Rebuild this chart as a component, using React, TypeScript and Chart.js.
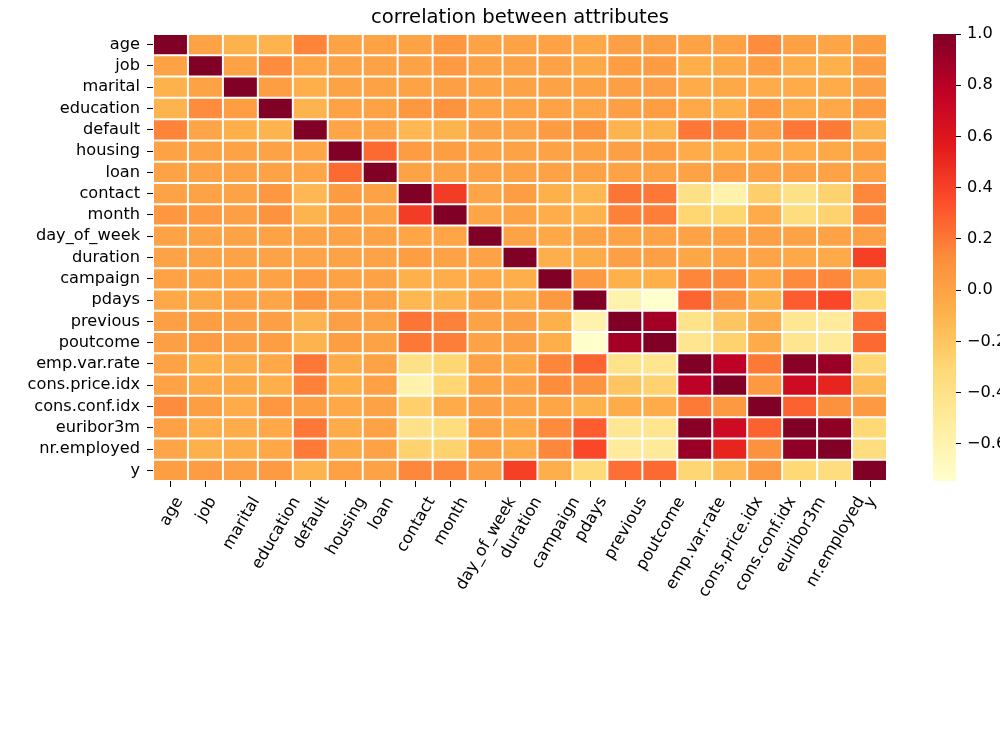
import { useEffect, useRef } from 'react';
import { Chart, registerables } from 'chart.js';
Chart.register(...registerables);

const FONT = "'DejaVu Sans', sans-serif";
const TICK_SIZE = 16.2;
const TITLE_SIZE = 19.6;
const TITLE = 'correlation between attributes';

const attributes = ['age', 'job', 'marital', 'education', 'default', 'housing', 'loan', 'contact', 'month', 'day_of_week', 'duration', 'campaign', 'pdays', 'previous', 'poutcome', 'emp.var.rate', 'cons.price.idx', 'cons.conf.idx', 'euribor3m', 'nr.employed', 'y'];

// correlation rows (same column order as attributes)
const rAge = [1, 0.0, -0.09, -0.1, 0.16, 0.0, 0.0, 0.0, 0.06, 0.0, -0.001, 0.005, -0.034, 0.024, 0.02, 0.0, 0.001, 0.129, 0.011, -0.018, 0.03];
const rJob = [0.0, 1, 0.0, 0.13, -0.02, 0.0, 0.0, 0.0, 0.05, 0.0, 0.0, 0.0, -0.04, 0.03, 0.04, -0.07, -0.04, 0.03, -0.06, -0.08, 0.04];
const rMarital = [-0.09, 0.0, 1, 0.03, -0.07, 0.0, 0.0, 0.0, 0.02, 0.0, 0.0, 0.0, 0.0, 0.02, 0.02, -0.05, -0.04, -0.05, -0.05, -0.05, 0.02];
const rEducation = [-0.1, 0.13, 0.03, 1, -0.1, 0.0, 0.0, 0.06, 0.09, 0.0, 0.0, 0.0, -0.02, 0.02, 0.03, -0.03, -0.07, 0.06, -0.03, -0.03, 0.05];
const rDefault = [0.16, -0.02, -0.07, -0.1, 1, -0.02, -0.02, -0.12, -0.1, 0.0, -0.01, 0.04, 0.08, -0.1, -0.1, 0.2, 0.17, 0.03, 0.2, 0.19, -0.1];
const rHousing = [0.0, 0.0, 0.0, 0.0, -0.02, 1, 0.25, 0.04, 0.03, 0.0, 0.0, 0.0, 0.0, 0.02, 0.03, -0.05, -0.07, -0.03, -0.05, -0.04, 0.01];
const rLoan = [0.0, 0.0, 0.0, 0.0, -0.02, 0.25, 1, 0.0, 0.0, 0.0, 0.0, 0.0, 0.0, 0.0, 0.0, 0.0, 0.01, 0.0, 0.0, 0.0, 0.0];
const rContact = [0.0, 0.0, 0.0, 0.06, -0.12, 0.04, 0.0, 1, 0.42, -0.02, 0.027, -0.077, -0.118, 0.212, 0.2, -0.394, -0.591, -0.252, -0.4, -0.27, 0.145];
const rMonth = [0.06, 0.05, 0.02, 0.09, -0.1, 0.03, 0.0, 0.42, 1, -0.02, 0.0, -0.06, -0.1, 0.17, 0.18, -0.29, -0.29, -0.05, -0.35, -0.27, 0.15];
const rDayOfWeek = [0.0, 0.0, 0.0, 0.0, 0.0, 0.0, 0.0, -0.02, -0.02, 1, 0.0, -0.03, 0.0, 0.0, 0.0, 0.0, 0.0, 0.02, 0.0, 0.0, 0.02];
const rDuration = [-0.001, 0.0, 0.0, 0.0, -0.01, 0.0, 0.0, 0.027, 0.0, 0.0, 1, -0.072, -0.048, 0.021, 0.02, -0.028, 0.005, -0.008, -0.033, -0.045, 0.405];
const rCampaign = [0.005, 0.0, 0.0, 0.0, 0.04, 0.0, 0.0, -0.077, -0.06, -0.03, -0.072, 1, 0.053, -0.079, -0.07, 0.151, 0.128, -0.014, 0.135, 0.144, -0.066];
const rPdays = [-0.034, -0.04, 0.0, -0.02, 0.08, 0.0, 0.0, -0.118, -0.1, 0.0, -0.048, 0.053, 1, -0.588, -0.745, 0.271, 0.079, -0.091, 0.297, 0.373, -0.325];
const rPrevious = [0.024, 0.03, 0.02, 0.02, -0.1, 0.02, 0.0, 0.212, 0.17, 0.0, 0.021, -0.079, -0.588, 1, 0.87, -0.42, -0.203, -0.051, -0.455, -0.501, 0.23];
const rPoutcome = [0.02, 0.04, 0.02, 0.03, -0.1, 0.03, 0.0, 0.2, 0.18, 0.0, 0.02, -0.07, -0.745, 0.87, 1, -0.44, -0.27, -0.05, -0.44, -0.49, 0.25];
const rEmpVarRate = [0.0, -0.07, -0.05, -0.03, 0.2, -0.05, 0.0, -0.394, -0.29, 0.0, -0.028, 0.151, 0.271, -0.42, -0.44, 1, 0.775, 0.196, 0.972, 0.907, -0.298];
const rConsPriceIdx = [0.001, -0.04, -0.04, -0.07, 0.17, -0.07, 0.01, -0.591, -0.29, 0.0, 0.005, 0.128, 0.079, -0.203, -0.27, 0.775, 1, 0.059, 0.688, 0.522, -0.136];
const rConsConfIdx = [0.129, 0.03, -0.05, 0.06, 0.03, -0.03, 0.0, -0.252, -0.05, 0.02, -0.008, -0.014, -0.091, -0.051, -0.05, 0.196, 0.059, 1, 0.278, 0.1, 0.055];
const rEuribor3m = [0.011, -0.06, -0.05, -0.03, 0.2, -0.05, 0.0, -0.4, -0.35, 0.0, -0.033, 0.135, 0.297, -0.455, -0.44, 0.972, 0.688, 0.278, 1, 0.945, -0.308];
const rNrEmployed = [-0.018, -0.08, -0.05, -0.03, 0.19, -0.04, 0.0, -0.27, -0.27, 0.0, -0.045, 0.144, 0.373, -0.501, -0.49, 0.907, 0.522, 0.1, 0.945, 1, -0.355];
const rY = [0.03, 0.04, 0.02, 0.05, -0.1, 0.01, 0.0, 0.145, 0.15, 0.02, 0.405, -0.066, -0.325, 0.23, 0.25, -0.298, -0.136, 0.055, -0.308, -0.355, 1];

const corr = [rAge, rJob, rMarital, rEducation, rDefault, rHousing, rLoan, rContact, rMonth, rDayOfWeek, rDuration, rCampaign, rPdays, rPrevious, rPoutcome, rEmpVarRate, rConsPriceIdx, rConsConfIdx, rEuribor3m, rNrEmployed, rY];

const colorbarTicks = [-0.6, -0.4, -0.2, 0.0, 0.2, 0.4, 0.6, 0.8, 1.0];

const YLORRD = ['#ffffcc', '#ffeda0', '#fed976', '#feb24c', '#fd8d3c', '#fc4e2a', '#e31a1c', '#bd0026', '#800026'];

const flat = corr.flat();
const vmin = Math.min(...flat);
const vmax = Math.max(...flat);

function hexToRgb(h: string) {
  return [parseInt(h.slice(1, 3), 16), parseInt(h.slice(3, 5), 16), parseInt(h.slice(5, 7), 16)];
}
const stops = YLORRD.map(hexToRgb);

function colorFor(v: number) {
  let t = (v - vmin) / (vmax - vmin);
  t = Math.max(0, Math.min(1, t));
  const pos = t * (stops.length - 1);
  const i = Math.min(stops.length - 2, Math.floor(pos));
  const f = pos - i;
  const a = stops[i], b = stops[i + 1];
  const c = a.map((x, k) => Math.round(x + (b[k] - x) * f));
  return `rgb(${c[0]},${c[1]},${c[2]})`;
}

const fmt = (v: number) => (v < -1e-9 ? '\u2212' : '') + Math.abs(v).toFixed(1);

const xLabelsPlugin = {
  id: 'xLabels',
  afterDraw(chart: any) {
    const { ctx, chartArea, scales } = chart;
    const xs = scales.x;
    ctx.save();
    // title
    ctx.fillStyle = '#000';
    ctx.font = `${TITLE_SIZE}px ${FONT}`;
    ctx.textAlign = 'center';
    ctx.textBaseline = 'alphabetic';
    ctx.fillText(TITLE, (chartArea.left + chartArea.right) / 2, 23);
    // x ticks and rotated labels (matplotlib style, centered rotation)
    const ang = (60 * Math.PI) / 180;
    const fs = TICK_SIZE;
    const h = 1.164 * fs;
    ctx.font = `${fs}px ${FONT}`;
    ctx.strokeStyle = '#000';
    ctx.lineWidth = 1;
    const top = chartArea.bottom + 6 + 6;
    attributes.forEach((lab, j) => {
      const x = xs.getPixelForValue(j);
      const px = Math.round(x) + 0.5;
      ctx.beginPath();
      ctx.moveTo(px, chartArea.bottom);
      ctx.lineTo(px, chartArea.bottom + 6);
      ctx.stroke();
      const w = ctx.measureText(lab).width;
      const H = w * Math.sin(ang) + h * Math.cos(ang);
      const cy = top + H / 2;
      ctx.save();
      ctx.translate(x, cy);
      ctx.rotate(-ang);
      ctx.textAlign = 'center';
      ctx.textBaseline = 'alphabetic';
      ctx.fillText(lab, 0, 0.346 * fs);
      ctx.restore();
    });
    ctx.restore();
  },
};

const colorbarPlugin = {
  id: 'colorbarFill',
  beforeDatasetsDraw(chart: any) {
    const { ctx, chartArea, scales } = chart;
    const ys = scales.y;
    const y0 = ys.getPixelForValue(vmin);
    const y1 = ys.getPixelForValue(vmax);
    const g = ctx.createLinearGradient(0, y0, 0, y1);
    YLORRD.forEach((c, k) => g.addColorStop(k / (YLORRD.length - 1), c));
    ctx.save();
    ctx.fillStyle = g;
    ctx.fillRect(chartArea.left, y1, chartArea.right - chartArea.left, y0 - y1);
    ctx.restore();
  },
};

export default function App() {
  const mainRef = useRef<HTMLCanvasElement>(null);
  const cbRef = useRef<HTMLCanvasElement>(null);

  useEffect(() => {
    const datasets = attributes.map((name, j) => ({
      label: name,
      data: attributes.map(() => [j - 0.5, j + 0.5]),
      backgroundColor: attributes.map((_, i) => colorFor(corr[i][j])),
      borderColor: '#ffffff',
      borderWidth: 1,
      borderSkipped: false,
      inflateAmount: 0,
      barPercentage: 1,
      categoryPercentage: 1,
      grouped: false,
    }));

    const main = new Chart(mainRef.current as HTMLCanvasElement, {
      type: 'bar',
      data: { labels: attributes, datasets: datasets as any },
      options: {
        indexAxis: 'y',
        responsive: false,
        animation: false,
        devicePixelRatio: 1,
        layout: { padding: { left: 0, right: 113, top: 34, bottom: 0 } },
        plugins: { legend: { display: false }, tooltip: { enabled: false }, title: { display: false } },
        scales: {
          x: {
            type: 'linear',
            min: -0.5,
            max: attributes.length - 0.5,
            display: true,
            grid: { display: false },
            border: { display: false },
            ticks: { display: false },
            afterFit: (s: any) => { s.height = 750 - 481; },
          },
          y: {
            type: 'category',
            offset: true,
            grid: { display: true, drawOnChartArea: false, drawTicks: true, tickLength: 6, offset: false, color: '#000', lineWidth: 1 },
            border: { display: false },
            ticks: { autoSkip: false, padding: 7, color: '#000', font: { family: FONT, size: TICK_SIZE } },
            afterFit: (s: any) => { s.width = 153; },
          },
        },
      } as any,
      plugins: [xLabelsPlugin],
    });

    const cb = new Chart(cbRef.current as HTMLCanvasElement, {
      type: 'scatter',
      data: { datasets: [] },
      options: {
        responsive: false,
        animation: false,
        devicePixelRatio: 1,
        layout: { padding: { left: 33, right: 0, top: 34, bottom: 750 - 481 } },
        plugins: { legend: { display: false }, tooltip: { enabled: false } },
        scales: {
          x: { display: false, min: 0, max: 1 },
          y: {
            type: 'linear',
            position: 'right',
            min: vmin,
            max: vmax,
            afterBuildTicks: (s: any) => { s.ticks = colorbarTicks.map((v) => ({ value: v })); },
            grid: { display: true, drawOnChartArea: false, drawTicks: true, tickLength: 5, color: '#000', lineWidth: 1 },
            border: { display: false },
            ticks: { padding: 6, color: '#000', font: { family: FONT, size: TICK_SIZE }, callback: (v: any) => fmt(Number(v)) },
            afterFit: (s: any) => { s.width = 44; },
          },
        },
      } as any,
      plugins: [colorbarPlugin],
    });

    return () => { main.destroy(); cb.destroy(); };
  }, []);

  return (
    <div style={{ position: 'absolute', left: 0, top: 0, width: 1000, height: 750, background: '#fff', overflow: 'hidden' }}>
      <canvas ref={mainRef} width={1000} height={750} style={{ position: 'absolute', left: 0, top: 0 }} />
      <canvas ref={cbRef} width={100} height={750} style={{ position: 'absolute', left: 900, top: 0 }} />
    </div>
  );
}
